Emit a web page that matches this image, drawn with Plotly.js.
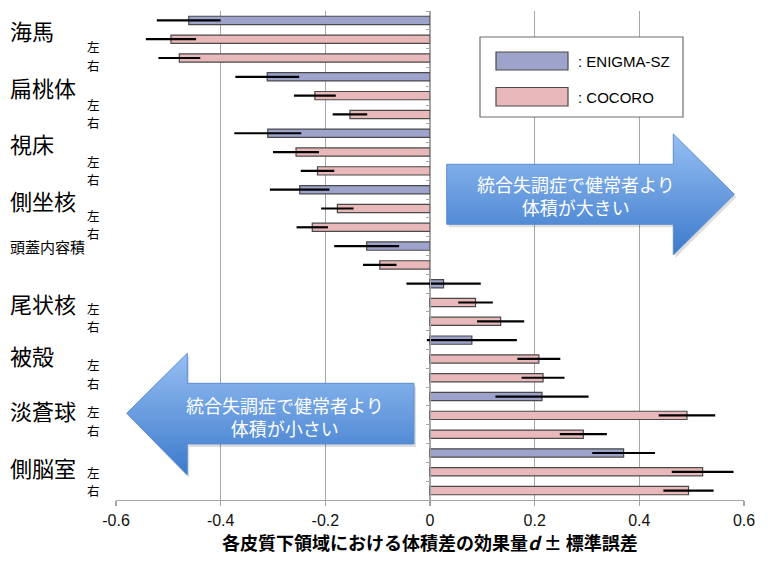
<!DOCTYPE html>
<html>
<head>
<meta charset="utf-8">
<script src="https://cdn.plot.ly/plotly-3.0.1.min.js"></script>
<style>html,body{margin:0;padding:0;background:#fff;}#chart{width:768px;height:575px;}</style>
</head>
<body>
<div id="chart"></div>
<script>
// ---------------- data ----------------
const regions = ['海馬','扁桃体','視床','側坐核','頭蓋内容積','尾状核','被殻','淡蒼球','側脳室'];
const sideLabels = ['左','右'];
const enigmaD  = [-0.461, -0.311, -0.310, -0.249, -0.121, 0.026, 0.080, 0.214, 0.370];
const enigmaSE = [ 0.061,  0.061,  0.064,  0.057,  0.062, 0.071, 0.086, 0.089, 0.060];
const cocoroLeftD  = [-0.495, -0.220, -0.256, -0.177, -0.096, 0.087, 0.208, 0.491, 0.521];
const cocoroLeftSE = [ 0.048,  0.040,  0.044,  0.031,  0.032, 0.033, 0.041, 0.054, 0.059];
const cocoroRightD  = [-0.479, -0.153, -0.215, -0.225, null, 0.135, 0.216, 0.293, 0.494];
const cocoroRightSE = [ 0.040,  0.033,  0.032,  0.030, null, 0.045, 0.041, 0.045, 0.048];
const seriesNames = [': ENIGMA-SZ', ': COCORO'];
const xTickVals = [-0.6, -0.4, -0.2, 0, 0.2, 0.4, 0.6];
const xTickText = ['-0.6', '-0.4', '-0.2', '0', '0.2', '0.4', '0.6'];
const xTitle = '各皮質下領域における体積差の効果量<i>d</i> ± 標準誤差';
const arrowTextRight = '統合失調症で健常者より<br>体積が大きい';
const arrowTextLeft  = '統合失調症で健常者より<br>体積が小さい';

// ---------------- layout constants ----------------
const W = 768, H = 575, ML = 116, MR = 24, MT = 11, MB = 75;
const PW = W - ML - MR, PH = H - MT - MB;
const PX = px => (px - ML) / PW;          // pixel -> paper x
const PY = py => (H - MB - py) / PH;      // pixel -> paper y
const bigLabelOffset = [0.52, 0.52, 0.54, 0.54, 0.03, 1.0, 0.77, 0.74, 0.74];
const sidePairOffset = [1.89, 1.94, 1.97, 1.85, 0, 1.78, 1.8, 1.3, 1.51];
const sideStep = 0.97;

const colE = '#9ea3cb', colC = '#e9b8ba', barLine = '#4a4a4a';
const gridCol = '#a6a6a6';
const jp = '"Noto Sans CJK JP", "Noto Sans", sans-serif';
const lat = '"Liberation Sans", Arial, sans-serif';

// ---------------- rows ----------------
const eY = [], eX = [], eErr = [];
const cY = [], cX = [], cErr = [];
const regionStart = [];
let row = 0;
regions.forEach((r, i) => {
  regionStart.push(row);
  eY.push(row); eX.push(enigmaD[i]); eErr.push(enigmaSE[i]); row++;
  cY.push(row); cX.push(cocoroLeftD[i]); cErr.push(cocoroLeftSE[i]); row++;
  if (cocoroRightD[i] !== null) {
    cY.push(row); cX.push(cocoroRightD[i]); cErr.push(cocoroRightSE[i]); row++;
  }
});
const nRows = row;
const boundaries = [];
for (let k = 0; k <= nRows; k++) boundaries.push(k - 0.5);

const barW = 0.44;
const traces = [
  {type:'bar', orientation:'h', x:eX, y:eY, width:barW, name:seriesNames[0],
   marker:{color:colE, line:{color:barLine, width:1.2}},
   error_x:{type:'data', array:eErr, visible:true, color:'#000', thickness:2.2, width:0},
   hoverinfo:'skip'},
  {type:'bar', orientation:'h', x:cX, y:cY, width:barW, name:seriesNames[1],
   marker:{color:colC, line:{color:barLine, width:1.2}},
   error_x:{type:'data', array:cErr, visible:true, color:'#000', thickness:2.2, width:0},
   hoverinfo:'skip'}
];

// arrows (decorations) drawn in pixel space on overlay axes
const arrowR = [[446.7,164.3],[673.3,164.3],[673.3,134],[734.3,194.3],[673.3,255],[673.3,224.3],[446.7,224.3],[446.7,164.3]];
const arrowL = [[126.7,413.3],[187.3,353.3],[187.3,383.3],[414,383.3],[414,444],[187.3,444],[187.3,475],[126.7,413.3]];
function arrowTraces(pts) {
  const sx = pts.map(p => p[0] + 2), sy = pts.map(p => -(p[1] + 3));
  const x = pts.map(p => p[0]), y = pts.map(p => -p[1]);
  return [
    {type:'scatter', mode:'lines', x:sx, y:sy, xaxis:'x2', yaxis:'y2', fill:'toself',
     fillcolor:'rgba(0,0,0,0.13)', line:{width:0, color:'rgba(0,0,0,0)'}, hoverinfo:'skip', showlegend:false},
    {type:'scatter', mode:'lines', x:x, y:y, xaxis:'x2', yaxis:'y2', fill:'toself',
     fillcolor:'#6a9fe0',
     fillgradient:{type:'vertical', colorscale:[[0,'rgb(60,122,203)'],[1,'rgb(150,191,243)']]},
     line:{width:1, color:'rgb(90,140,210)'}, hoverinfo:'skip', showlegend:false}
  ];
}
traces.push(...arrowTraces(arrowR), ...arrowTraces(arrowL));

// ---------------- annotations ----------------
const annotations = [];
regions.forEach((r, i) => {
  const isICV = cocoroRightD[i] === null;
  annotations.push({xref:'paper', yref:'y', x:PX(8), y:regionStart[i] + bigLabelOffset[i],
    xanchor:'left', yanchor:'middle', text:r, showarrow:false,
    font:{family:jp, size:isICV ? 15 : 22, color:'#000'}});
  if (!isICV) {
    const yc = regionStart[i] + sidePairOffset[i];
    sideLabels.forEach((s, k) => {
      annotations.push({xref:'paper', yref:'y', x:PX(93.5), y:yc + (k - 0.5) * sideStep,
        xanchor:'center', yanchor:'middle', borderpad:0,
        text:s, showarrow:false, font:{family:jp, size:12.5, color:'#000'}});
    });
  }
});
// arrow texts
annotations.push({xref:'paper', yref:'paper', x:PX(576), y:PY(195), xanchor:'center', yanchor:'middle',
  text:arrowTextRight, showarrow:false, font:{family:jp, size:18, color:'#fff'}});
annotations.push({xref:'paper', yref:'paper', x:PX(285), y:PY(416), xanchor:'center', yanchor:'middle',
  text:arrowTextLeft, showarrow:false, font:{family:jp, size:18, color:'#fff'}});
// legend texts
annotations.push({xref:'paper', yref:'paper', x:PX(576), y:PY(61), xanchor:'left', yanchor:'middle',
  text:seriesNames[0], showarrow:false, font:{family:lat, size:15, color:'#000'}});
annotations.push({xref:'paper', yref:'paper', x:PX(576), y:PY(97), xanchor:'left', yanchor:'middle',
  text:seriesNames[1], showarrow:false, font:{family:lat, size:15, color:'#000'}});

// legend shapes
const shapes = [
  {type:'rect', xref:'paper', yref:'paper', x0:PX(480), x1:PX(683), y0:PY(117), y1:PY(37),
   fillcolor:'#fff', line:{color:'#6e6e6e', width:1.2}, layer:'above'},
  {type:'rect', xref:'paper', yref:'paper', x0:PX(496), x1:PX(568), y0:PY(70), y1:PY(52),
   fillcolor:colE, line:{color:barLine, width:1.2}, layer:'above'},
  {type:'rect', xref:'paper', yref:'paper', x0:PX(496), x1:PX(568), y0:PY(106), y1:PY(87.5),
   fillcolor:colC, line:{color:barLine, width:1.2}, layer:'above'}
];

const layout = {
  width:W, height:H,
  margin:{l:ML, r:MR, t:MT, b:MB},
  paper_bgcolor:'#fff', plot_bgcolor:'#fff',
  showlegend:false, barmode:'overlay',
  xaxis:{range:[-0.6,0.6], tickvals:xTickVals, ticktext:xTickText,
    showgrid:true, gridcolor:gridCol, gridwidth:1.3, zeroline:false,
    showline:true, linecolor:gridCol, linewidth:1.3,
    ticks:'outside', ticklen:5, tickcolor:gridCol, tickwidth:1.3,
    tickfont:{family:lat, size:16, color:'#111'},
    title:{text:xTitle, standoff:10, font:{family:jp, size:18, color:'#000', weight:'bold'}},
    fixedrange:true},
  yaxis:{range:[nRows - 0.5, -0.5], anchor:'free', position:0.5,
    showline:true, linecolor:gridCol, linewidth:1.3,
    ticks:'outside', tickvals:boundaries, ticklen:4, tickcolor:gridCol, tickwidth:1,
    showticklabels:false, showgrid:false, zeroline:false, fixedrange:true},
  xaxis2:{overlaying:'x', anchor:'y2', range:[ML, W - MR], visible:false, fixedrange:true},
  yaxis2:{overlaying:'y', anchor:'x2', range:[-(H - MB), -MT], visible:false, fixedrange:true},
  annotations:annotations,
  shapes:shapes
};

Plotly.newPlot('chart', traces, layout, {staticPlot:true, displayModeBar:false});
</script>
</body>
</html>
